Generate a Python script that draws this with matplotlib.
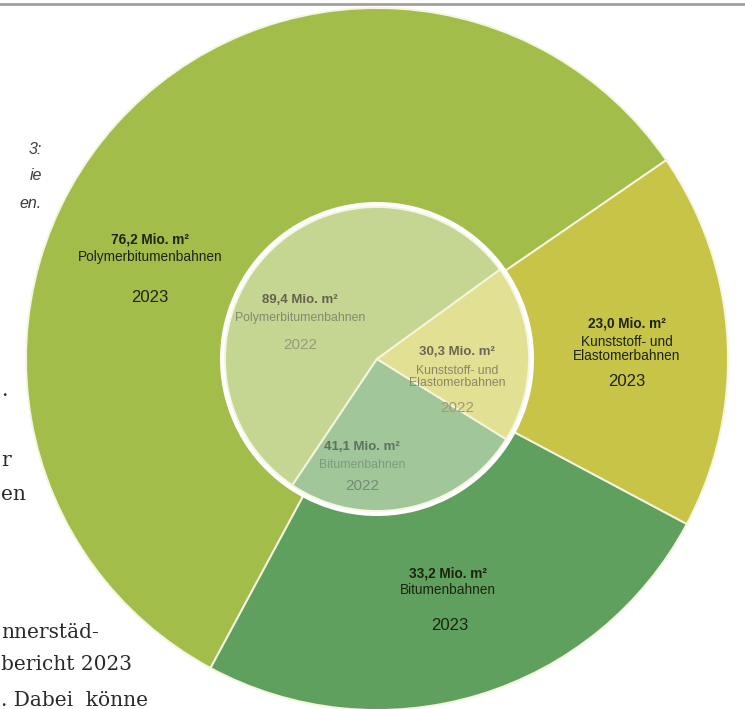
import matplotlib
matplotlib.use("Agg")
import matplotlib.pyplot as plt
from matplotlib.patches import Circle

# ---- data ----
categories = ["Polymerbitumenbahnen", "Bitumenbahnen", "Kunststoff- und\nElastomerbahnen"]
values_2023 = [76.2, 33.2, 23.0]
values_2022 = [89.4, 41.1, 30.3]
value_labels_2023 = ["76,2 Mio. m²", "33,2 Mio. m²", "23,0 Mio. m²"]
value_labels_2022 = ["89,4 Mio. m²", "41,1 Mio. m²", "30,3 Mio. m²"]
year_outer = "2023"
year_inner = "2022"

colors_2023 = ["#a3bd4b", "#60a05f", "#c8c448"]
colors_2022 = ["#c4d691", "#a0c69a", "#e2e092"]

W, H = 745, 709
fig = plt.figure(figsize=(W / 100, H / 100), dpi=100)
ax = fig.add_axes([0, 0, 1, 1])

cx, cy = 377, H - 359
R_out = 351
R_ring = 157
R_in = 152

ax.pie(values_2023, colors=colors_2023, startangle=34.5, radius=R_out,
       center=(cx, cy), wedgeprops=dict(edgecolor="#f4f6e0", linewidth=1.4))
ax.add_patch(Circle((cx, cy), R_ring, facecolor="white", edgecolor="none", zorder=3))
wedges, _ = ax.pie(values_2022, colors=colors_2022, startangle=36, radius=R_in,
                   center=(cx, cy), wedgeprops=dict(edgecolor="#f4f6e0", linewidth=1.4))
for w in wedges:
    w.set_zorder(4)

ax.set_xlim(0, W)
ax.set_ylim(0, H)
ax.set_aspect("equal")
ax.axis("off")

sans = ["Liberation Sans", "DejaVu Sans"]
dark = "#1c2410"

# outer labels (2023)
outer_pos = [(150, 240), (448, 573), (627, 323)]
for (x, y), val, cat in zip(outer_pos, value_labels_2023, categories):
    nlines = cat.count("\n") + 1
    ax.text(x, H - y, val, ha="center", va="center", fontsize=9.8,
            fontweight="bold", color=dark, family=sans, zorder=6)
    ax.text(x, H - y - 9 - 8.5 * nlines, cat, ha="center", va="center", fontsize=9.8,
            color=dark, family=sans, zorder=6, linespacing=1.05)
year_outer_pos = [(150, 297), (450, 626), (627, 382)]
for (x, y) in year_outer_pos:
    ax.text(x, H - y, year_outer, ha="center", va="center", fontsize=12,
            color=dark, family=sans, zorder=6)

# inner labels (2022)
inner_pos = [(300, 300), (362, 447), (457, 352)]
inner_val_col = ["#66614f", "#607060", "#6a6656"]
inner_cat_col = ["#848a70", "#7e9a7e", "#8a8668"]
inner_year_col = ["#989c7c", "#788a78", "#a29c6c"]
for (x, y), val, cat, c1, c2 in zip(inner_pos, value_labels_2022, categories,
                                    inner_val_col, inner_cat_col):
    nlines = cat.count("\n") + 1
    ax.text(x, H - y, val, ha="center", va="center", fontsize=9.5,
            fontweight="bold", color=c1, family=sans, zorder=6)
    ax.text(x, H - y - 10 - 7.5 * nlines, cat, ha="center", va="center", fontsize=8.8,
            color=c2, family=sans, zorder=6, linespacing=1.05)
year_inner_pos = [(300, 345), (362, 486), (457, 408)]
for (x, y), c3 in zip(year_inner_pos, inner_year_col):
    ax.text(x, H - y, year_inner, ha="center", va="center", fontsize=11,
            color=c3, family=sans, zorder=6)

# top rule
ax.plot([0, W], [H - 4, H - 4], color="#a0a0a0", linewidth=2, zorder=7)

# fragments of surrounding page text
ital = dict(ha="right", va="center", fontsize=11.5, style="italic", color="#3c3c3c", family=sans)
ax.text(42, H - 150, "3:", **ital)
ax.text(42, H - 175, "ie", **ital)
ax.text(42, H - 203, "en.", **ital)

serif = dict(ha="left", va="center", fontsize=14.5, color="#2a2a2a",
             family=["DejaVu Serif", "Liberation Serif"])
ax.text(1, H - 390, ".", **serif)
ax.text(1, H - 460, "r", **serif)
ax.text(1, H - 495, "en", **serif)
ax.text(1, H - 633, "nnerstäd-", **serif)
ax.text(1, H - 665, "bericht 2023", **serif)
ax.text(1, H - 700, ". Dabei  könne", **serif)

fig.savefig("out.png", dpi=100)
